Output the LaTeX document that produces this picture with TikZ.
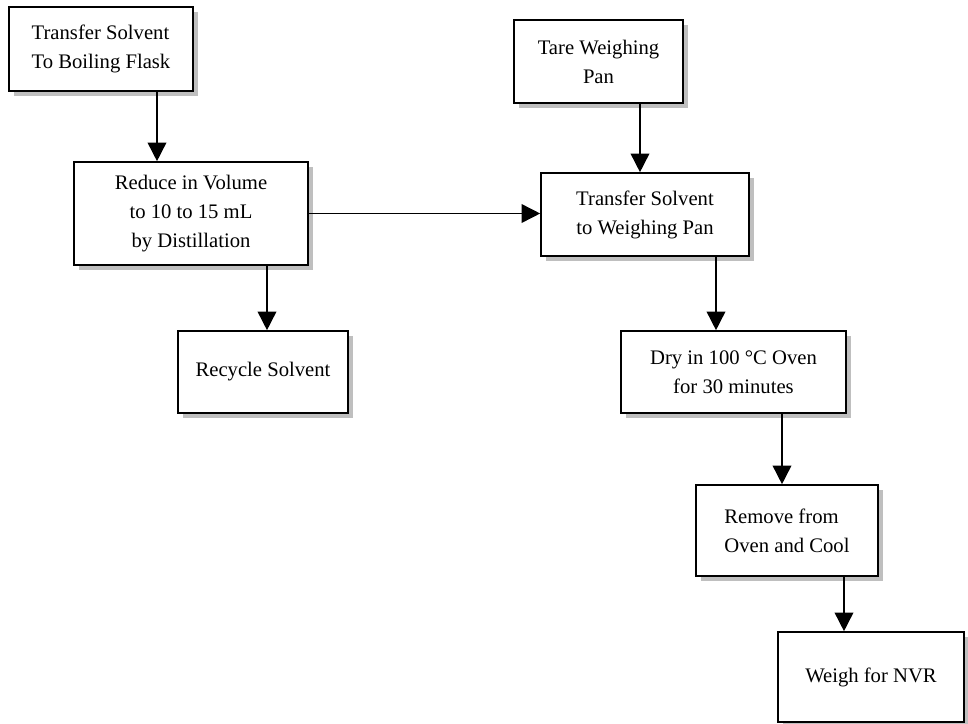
\documentclass[tikz,border=0pt]{standalone}
\usepackage{fontspec}
\setmainfont{Liberation Serif}
\usetikzlibrary{arrows.meta,shadows}

\begin{document}
\begin{tikzpicture}[
  x=0.75pt,
  y=-0.75pt,
  font=\fontsize{15.5}{21.75}\selectfont,
  line/.style={draw=black,line width=1.2pt},
  arrow/.style={line,-{Triangle[length=14pt,width=14pt]}},
  stepbox/.style={line,fill=white,align=center,inner sep=0pt,
    drop shadow={shadow xshift=3.75pt,shadow yshift=-3.75pt,fill=black!25,opacity=1}}
]
\useasboundingbox (0,0) rectangle (968,724);

% ---------------------------------------------------------------- left branch: distillation
\node[stepbox,align=left,minimum width=138pt,minimum height=63pt] (flask) at (101,49)
  {Transfer Solvent\\To Boiling Flask};
\node[stepbox,minimum width=175.5pt,minimum height=77.25pt] (reduce) at (191,213.5)
  {Reduce in Volume\\to 10 to 15 mL\\by Distillation};
\node[stepbox,minimum width=127.5pt,minimum height=61.5pt] (recycle) at (263,372)
  {Recycle Solvent};

% ---------------------------------------------------------------- right branch: weighing
\node[stepbox,minimum width=126.75pt,minimum height=62.25pt] (tare) at (598.5,61.5)
  {Tare Weighing\\Pan};
\node[stepbox,minimum width=156pt,minimum height=62.25pt] (xferpan) at (645,214.5)
  {Transfer Solvent\\to Weighing Pan};
\node[stepbox,minimum width=168.75pt,minimum height=61.5pt] (dry) at (733.5,372)
  {Dry in 100 °C Oven\\for 30 minutes};
\node[stepbox,align=left,minimum width=136.5pt,minimum height=68.25pt] (cool) at (787,530.5)
  {Remove from\\Oven and Cool};
\node[stepbox,minimum width=139.5pt,minimum height=67.5pt] (weigh) at (871,677)
  {Weigh for NVR};

% ---------------------------------------------------------------- connectors
\draw[arrow] (flask.south -| 157,0) -- (reduce.north -| 157,0);
\draw[arrow] (reduce.south -| 267,0) -- (recycle.north -| 267,0);
\draw[arrow] (reduce.east) -- (reduce.east -| xferpan.west);
\draw[arrow] (tare.south -| 640,0) -- (xferpan.north -| 640,0);
\draw[arrow] (xferpan.south -| 716,0) -- (dry.north -| 716,0);
\draw[arrow] (dry.south -| 782,0) -- (cool.north -| 782,0);
\draw[arrow] (cool.south -| 844,0) -- (weigh.north -| 844,0);

\end{tikzpicture}
\end{document}
